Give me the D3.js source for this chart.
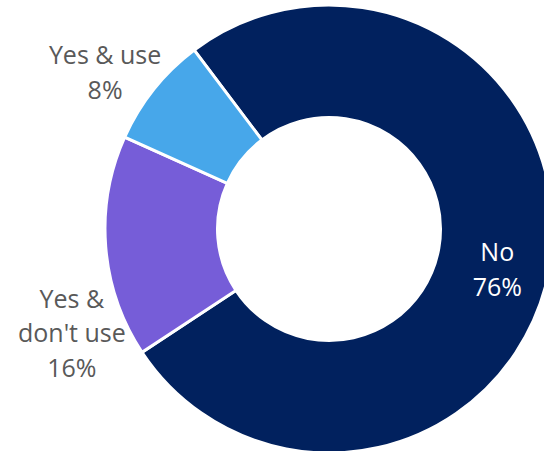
<!DOCTYPE html>
<html>
<head>
<meta charset="utf-8">
<script src="https://cdn.jsdelivr.net/npm/d3@7"></script>
<style>
  html, body { margin: 0; padding: 0; background: #ffffff; }
  svg { display: block; }
</style>
</head>
<body>
<svg id="chart" width="544" height="451"></svg>
<script>
// Survey answers, in clockwise drawing order
const categories = ["No", "Yes & don't use", "Yes & use"];
const shares = [76, 16, 8];
const labelLines = [["No", "76%"], ["Yes &", "don't use", "16%"], ["Yes & use", "8%"]];
const colors = ["#01215E", "#765DD8", "#47A7EA"];

const width = 544, height = 451;
const cx = 329, cy = 229;
const outerR = 224, innerR = 111.5;
const start = -37 * Math.PI / 180;

const svg = d3.select("#chart");
svg.append("rect").attr("width", width).attr("height", height).attr("fill", "#ffffff");

const g = svg.append("g").attr("transform", `translate(${cx},${cy})`);

const pie = d3.pie().sort(null).value(d => d.value)
  .startAngle(start).endAngle(start + 2 * Math.PI);

const data = categories.map((c, i) => ({ name: c, value: shares[i], lines: labelLines[i], color: colors[i] }));
const arcs = pie(data);

const arc = d3.arc().innerRadius(innerR).outerRadius(outerR);

g.selectAll("path.slice")
  .data(arcs)
  .join("path")
  .attr("class", "slice")
  .attr("d", arc)
  .attr("fill", d => d.data.color)
  .attr("stroke", "#ffffff")
  .attr("stroke-width", 3)
  .attr("stroke-linejoin", "miter");

// Label placement: inside the ring for the large slice, outside for the small ones
const insideArc = d3.arc().innerRadius((innerR + outerR) / 2).outerRadius((innerR + outerR) / 2);
const outsideArc = d3.arc().innerRadius(275).outerRadius(275);
const placement = [
  { arc: insideArc, dx: 3, dy: 12, fill: "#ffffff" },
  { arc: outsideArc, dx: 17, dy: 82, fill: "#595959" },
  { arc: outsideArc, dx: -9, dy: 15, fill: "#595959" }
];

const lineH = 34.5;
const labels = g.selectAll("text.label")
  .data(arcs)
  .join("text")
  .attr("class", "label")
  .attr("text-anchor", "middle")
  .attr("font-family", "'Open Sans', sans-serif")
  .attr("font-size", 25)
  .attr("fill", (d, i) => placement[i].fill)
  .attr("transform", (d, i) => {
    const [x, y] = placement[i].arc.centroid(d);
    return `translate(${x + placement[i].dx},${y + placement[i].dy})`;
  });

labels.each(function(d) {
  const n = d.data.lines.length;
  d3.select(this).selectAll("tspan")
    .data(d.data.lines)
    .join("tspan")
    .attr("x", 0)
    .attr("y", (t, j) => (j - (n - 1) / 2) * lineH + 9)
    .text(t => t);
});
</script>
</body>
</html>
